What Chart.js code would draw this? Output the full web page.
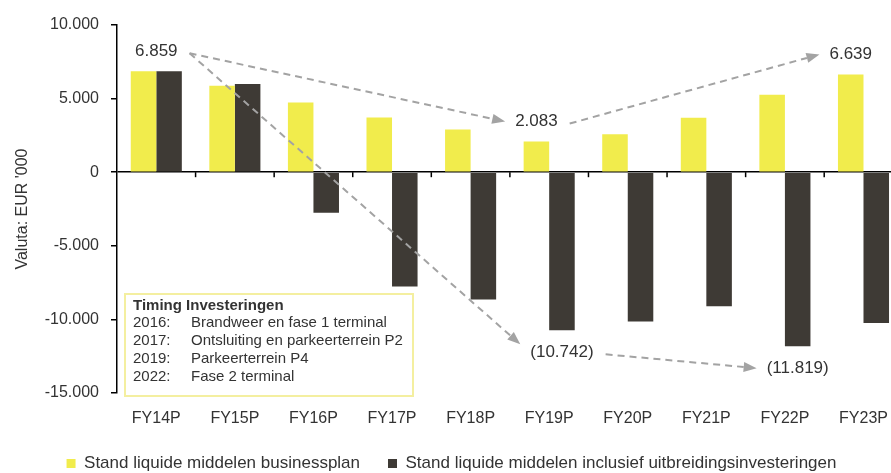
<!DOCTYPE html>
<html>
<head>
<meta charset="utf-8">
<script src="https://cdn.jsdelivr.net/npm/chart.js@4.4.0/dist/chart.umd.min.js"></script>
<style>
  html, body { margin:0; padding:0; background:#fff; overflow:hidden; width:891px; height:473px; }
  #wrap { width:904px; height:482px; }
</style>
</head>
<body>
<div id="wrap"><canvas id="chart" width="904" height="482"></canvas></div>
<script>
// data (EUR '000)
const categories = ['FY14P','FY15P','FY16P','FY17P','FY18P','FY19P','FY20P','FY21P','FY22P','FY23P'];
const planValues = [6859, 5880, 4730, 3720, 2900, 2083, 2570, 3700, 5270, 6639];
const expansionValues = [6859, 5990, -2750, -7770, -8650, -10742, -10150, -9100, -11819, -10250];
const seriesNames = ['Stand liquide middelen businessplan', 'Stand liquide middelen inclusief uitbreidingsinvesteringen'];
const yMin = -15000, yMax = 10000, yStep = 5000;

// highlighted values: [category index, series index]
const callouts = [[0,0], [5,0], [9,0], [5,1], [8,1]];
// arrows between callouts: [from, to]
const arrows = [[0,1], [1,2], [0,3], [3,4]];

const timingTitle = 'Timing Investeringen';
const timingYears = ['2016:', '2017:', '2019:', '2022:'];
const timingItems = ['Brandweer en fase 1 terminal', 'Ontsluiting en parkeerterrein P2', 'Parkeerterrein P4', 'Fase 2 terminal'];

const FONT = "'Liberation Sans', Arial, sans-serif";
const TXT = '#333';
const YELLOW = '#f1ec4c';
const DARK = '#3e3a35';

const group = n => String(n).replace(/\B(?=(\d{3})+(?!\d))/g, '.');
const tickFmt = v => (v < 0 ? '-' : '') + group(Math.abs(v));
const calloutFmt = v => v < 0 ? '(' + group(Math.abs(v)) + ')' : group(v);

Chart.defaults.font.family = FONT;
Chart.defaults.color = TXT;

// small ticks on the zero line between categories
const zeroTicks = {
  id: 'zeroTicks',
  afterDatasetsDraw(chart){
    const {ctx, scales:{x, y}} = chart;
    const y0 = y.getPixelForValue(0);
    ctx.save();
    ctx.strokeStyle = '#000';
    ctx.lineWidth = 1.5;
    for (let i = 1; i < categories.length; i++) {
      const xb = (x.getPixelForValue(i-1) + x.getPixelForValue(i)) / 2;
      ctx.beginPath(); ctx.moveTo(xb, y0); ctx.lineTo(xb, y0 + 5); ctx.stroke();
    }
    ctx.restore();
  }
};

// value labels + dashed arrows
const calloutPlugin = {
  id: 'callouts',
  afterDatasetsDraw(chart){
    const {ctx, scales:{x, y}} = chart;
    ctx.save();
    ctx.font = '17px ' + FONT;
    ctx.textBaseline = 'middle';
    ctx.textAlign = 'center';
    const pos = callouts.map(([i, s]) => {
      const v = chart.data.datasets[s].data[i];
      const bar = chart.getDatasetMeta(s).data[i];
      const cx = planValues[i] === expansionValues[i] ? x.getPixelForValue(i) : bar.x;
      const cy = v >= 0 ? y.getPixelForValue(v) - 20 : y.getPixelForValue(v) + 22;
      const text = calloutFmt(v);
      const w = ctx.measureText(text).width;
      ctx.fillStyle = TXT;
      ctx.fillText(text, cx, cy);
      return {cx, cy, left: cx - w/2, right: cx + w/2};
    });
    ctx.strokeStyle = '#a3a3a3';
    ctx.fillStyle = '#a3a3a3';
    ctx.lineWidth = 2;
    arrows.forEach(([a, b]) => {
      const p = pos[a], q = pos[b];
      const x1 = p.right + 12, y1 = p.cy + 2;
      const x2 = q.left - 10, y2 = q.cy - (q.cy - y1 > 150 ? 8 : 0);
      const ang = Math.atan2(y2 - y1, x2 - x1);
      const hl = 13, hw = 5;
      const bx = x2 - hl * Math.cos(ang), by = y2 - hl * Math.sin(ang);
      ctx.setLineDash([7, 5]);
      ctx.beginPath(); ctx.moveTo(x1, y1); ctx.lineTo(bx, by); ctx.stroke();
      ctx.setLineDash([]);
      ctx.beginPath();
      ctx.moveTo(x2, y2);
      ctx.lineTo(bx + hw * Math.sin(ang), by - hw * Math.cos(ang));
      ctx.lineTo(bx - hw * Math.sin(ang), by + hw * Math.cos(ang));
      ctx.closePath(); ctx.fill();
    });
    ctx.restore();
  }
};

// "Timing Investeringen" box
const timingBox = {
  id: 'timingBox',
  afterDatasetsDraw(chart){
    const {ctx, chartArea} = chart;
    const bx = chartArea.left + 8, by = chartArea.bottom - 99, bw = 288, bh = 102;
    ctx.save();
    ctx.fillStyle = '#fff';
    ctx.fillRect(bx, by, bw, bh);
    ctx.strokeStyle = '#f4efa0';
    ctx.lineWidth = 2;
    ctx.strokeRect(bx, by, bw, bh);
    ctx.textBaseline = 'middle';
    ctx.textAlign = 'left';
    ctx.fillStyle = TXT;
    ctx.font = 'bold 15px ' + FONT;
    ctx.fillText(timingTitle, bx + 8, by + 12);
    ctx.font = '15px ' + FONT;
    timingYears.forEach((yr, k) => {
      const ty = by + 29 + k * 17.8;
      ctx.fillText(yr, bx + 8, ty);
      ctx.fillText(timingItems[k], bx + 66, ty);
    });
    ctx.restore();
  }
};

new Chart(document.getElementById('chart'), {
  type: 'bar',
  data: {
    labels: categories,
    datasets: [
      { label: seriesNames[0], data: planValues, backgroundColor: YELLOW, borderWidth: 0 },
      { label: seriesNames[1], data: expansionValues, backgroundColor: DARK, borderWidth: 0 }
    ]
  },
  options: {
    responsive: false,
    animation: false,
    devicePixelRatio: 1,
    layout: { padding: { top: 25, right: 1, left: 0, bottom: 0 } },
    datasets: { bar: { categoryPercentage: 0.65, barPercentage: 1.0 } },
    plugins: {
      tooltip: { enabled: false },
      legend: {
        position: 'bottom',
        labels: { font: { size: 17 }, color: TXT, boxWidth: 9, boxHeight: 9, padding: 28 }
      }
    },
    scales: {
      x: {
        grid: { display: false, drawTicks: false },
        border: { display: false },
        ticks: { font: { size: 16 }, color: TXT, padding: 16, maxRotation: 0, autoSkip: false },
        afterFit: s => { s.height = 34; }
      },
      y: {
        min: yMin, max: yMax,
        ticks: { stepSize: yStep, font: { size: 16 }, color: TXT, padding: 12, callback: tickFmt },
        grid: {
          drawOnChartArea: true,
          color: c => c.tick && c.tick.value === 0 ? '#000' : 'rgba(0,0,0,0)',
          tickColor: '#000',
          tickLength: 6,
          lineWidth: 1.5
        },
        border: { display: true, color: '#000', width: 1.5 },
        title: { display: true, text: "Valuta: EUR '000", font: { size: 16 }, color: TXT, padding: { top: 13, bottom: 0 } },
        afterFit: s => { s.width = 117; }
      }
    }
  },
  plugins: [zeroTicks, calloutPlugin, timingBox]
});
</script>
</body>
</html>
